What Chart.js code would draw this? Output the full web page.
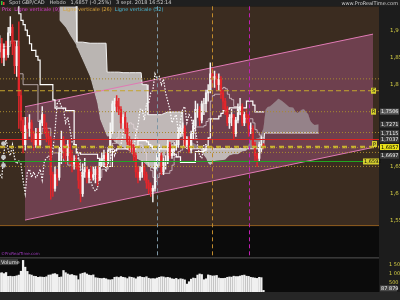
<!DOCTYPE html>
<html>
<head>
<meta charset="utf-8">
<script src="https://cdn.jsdelivr.net/npm/chart.js@4.4.1/dist/chart.umd.min.js"></script>
<style>
  html, body { margin: 0; padding: 0; background: #0b0b0b; }
  canvas { display: block; }
</style>
</head>
<body>
<canvas id="chart" width="400" height="300"></canvas>
<script>
// Spot GBP/CAD weekly — first candle is the week of 18 Apr 2016 (index 0)
const firstOpen = 1.860;
const closes = [
  1.875, 1.850, 1.865, 1.855, 1.895, 1.905, 1.875, 1.835, 1.870, 1.780,
  1.735, 1.690, 1.725, 1.720, 1.730, 1.710, 1.690, 1.710, 1.690, 1.730,
  1.745, 1.720, 1.705, 1.700, 1.635, 1.610, 1.635, 1.630, 1.675, 1.700,
  1.680, 1.670, 1.690, 1.665, 1.655, 1.660, 1.655, 1.625, 1.600, 1.640,
  1.645, 1.630, 1.640, 1.630, 1.635, 1.645, 1.625, 1.660, 1.665, 1.670,
  1.660, 1.680, 1.715, 1.765, 1.770, 1.760, 1.755, 1.730, 1.740, 1.720,
  1.695, 1.690, 1.685, 1.670, 1.640, 1.630, 1.640, 1.650, 1.635, 1.620,
  1.610, 1.605, 1.610, 1.650, 1.670, 1.670, 1.640, 1.660, 1.660, 1.690,
  1.670, 1.680, 1.685, 1.690, 1.710, 1.720, 1.720, 1.690, 1.700, 1.680,
  1.710, 1.725, 1.755, 1.755, 1.735, 1.765, 1.765, 1.785, 1.790, 1.820,
  1.810, 1.815, 1.800, 1.810, 1.785, 1.770, 1.755, 1.730, 1.740, 1.745,
  1.710, 1.735, 1.755, 1.760, 1.730, 1.745, 1.740, 1.720, 1.720, 1.690,
  1.670, 1.665, 1.690, 1.690, 1.6857
];
const highs = [
  1.890, 1.885, 1.875, 1.880, 1.905, 1.925, 1.910, 1.880, 1.880, 1.915,
  1.790, 1.740, 1.740, 1.740, 1.745, 1.735, 1.715, 1.720, 1.720, 1.735,
  1.760, 1.745, 1.730, 1.715, 1.705, 1.640, 1.650, 1.645, 1.685, 1.715,
  1.705, 1.690, 1.700, 1.700, 1.680, 1.670, 1.670, 1.660, 1.640, 1.655,
  1.665, 1.650, 1.645, 1.650, 1.650, 1.650, 1.650, 1.665, 1.675, 1.680,
  1.675, 1.685, 1.730, 1.770, 1.775, 1.780, 1.775, 1.760, 1.745, 1.750,
  1.730, 1.705, 1.700, 1.690, 1.675, 1.650, 1.650, 1.660, 1.655, 1.640,
  1.625, 1.620, 1.615, 1.660, 1.675, 1.690, 1.675, 1.665, 1.670, 1.700,
  1.695, 1.690, 1.695, 1.700, 1.720, 1.725, 1.730, 1.725, 1.705, 1.705,
  1.715, 1.735, 1.770, 1.765, 1.760, 1.770, 1.775, 1.790, 1.800, 1.840,
  1.830, 1.825, 1.820, 1.820, 1.815, 1.790, 1.775, 1.760, 1.745, 1.755,
  1.745, 1.740, 1.765, 1.775, 1.765, 1.750, 1.755, 1.745, 1.730, 1.725,
  1.695, 1.675, 1.695, 1.705, 1.692
];
const lows = [
  1.850, 1.840, 1.835, 1.845, 1.850, 1.890, 1.855, 1.820, 1.815, 1.720,
  1.715, 1.675, 1.680, 1.700, 1.705, 1.695, 1.680, 1.685, 1.685, 1.685,
  1.725, 1.710, 1.695, 1.690, 1.590, 1.595, 1.605, 1.615, 1.625, 1.655,
  1.665, 1.655, 1.660, 1.655, 1.640, 1.645, 1.645, 1.610, 1.585, 1.595,
  1.630, 1.620, 1.620, 1.625, 1.625, 1.620, 1.615, 1.625, 1.650, 1.650,
  1.650, 1.655, 1.675, 1.710, 1.750, 1.750, 1.745, 1.720, 1.720, 1.710,
  1.690, 1.680, 1.675, 1.660, 1.630, 1.620, 1.625, 1.630, 1.625, 1.610,
  1.600, 1.595, 1.585, 1.605, 1.645, 1.660, 1.635, 1.635, 1.645, 1.655,
  1.665, 1.665, 1.670, 1.680, 1.685, 1.705, 1.710, 1.685, 1.685, 1.675,
  1.675, 1.700, 1.720, 1.740, 1.725, 1.730, 1.745, 1.750, 1.770, 1.785,
  1.795, 1.795, 1.790, 1.790, 1.775, 1.755, 1.745, 1.725, 1.720, 1.725,
  1.700, 1.705, 1.730, 1.745, 1.725, 1.725, 1.730, 1.705, 1.710, 1.685,
  1.660, 1.650, 1.660, 1.675, 1.683
];
// weekly volume, thousands
const volumes = [
  1030, 1050, 1000, 1060, 850, 860, 840, 850, 880, 920,
  1130, 1720, 1350, 1120, 950, 920, 860, 850, 800, 820,
  810, 800, 830, 920, 930, 980, 1000, 950, 800, 820,
  1170, 1050, 980, 930, 950, 900, 880, 670, 980, 1020,
  1050, 980, 920, 900, 930, 780, 760, 740, 730, 750,
  720, 670, 660, 680, 800, 820, 790, 840, 800, 780,
  730, 820, 800, 770, 720, 820, 840, 800, 790, 830,
  750, 720, 730, 720, 760, 800, 830, 820, 780, 800,
  770, 720, 700, 740, 680, 720, 700, 660, 430, 560,
  700, 760, 740, 920, 980, 950, 670, 720, 930, 900,
  870, 880, 900, 760, 740, 740, 750, 800, 820, 810,
  860, 840, 840, 870, 900, 920, 860, 850, 800, 780,
  760, 740, 800, 780, 88
];

// Ichimoku lines (week index, value from that week on)
const tenkanIdx = [0, 5, 9, 11, 18, 19, 20, 24, 29, 30, 32, 35, 37, 38, 39, 42, 44, 46, 47, 48, 51, 52, 53, 55, 56, 59, 60, 61, 62, 63, 64, 65, 67, 68, 69, 70, 71, 72, 73, 74, 75, 80, 81, 82, 84, 85, 86, 88, 90, 92, 96, 97, 98, 99, 100, 101, 104, 105, 106, 107, 108, 109, 110, 112, 113, 114, 119, 120, 121, 122, 123, 124];
const tenkan = [1.870, 1.880, 1.820, 1.800, 1.7325, 1.710, 1.720, 1.675, 1.6675, 1.660, 1.6525, 1.665, 1.6625, 1.645, 1.6425, 1.6325, 1.6275, 1.625, 1.630, 1.645, 1.650, 1.6725, 1.6925, 1.7025, 1.715, 1.7175, 1.7275, 1.730, 1.7275, 1.720, 1.7025, 1.690, 1.685, 1.675, 1.6575, 1.650, 1.6425, 1.630, 1.6225, 1.630, 1.6375, 1.6425, 1.6525, 1.6675, 1.6775, 1.680, 1.6875, 1.6975, 1.700, 1.7225, 1.725, 1.7325, 1.7375, 1.770, 1.780, 1.7825, 1.7925, 1.795, 1.7925, 1.7825, 1.775, 1.7725, 1.760, 1.7575, 1.745, 1.7375, 1.730, 1.7175, 1.7125, 1.7075, 1.7025, 1.7037];
const kijunIdx = [0, 9, 10, 11, 12, 13, 14, 15, 17, 18, 19, 25, 26, 31, 35, 36, 38, 46, 47, 48, 53, 54, 55, 64, 65, 69, 70, 71, 72, 81, 82, 83, 85, 92, 96, 97, 98, 99, 103, 104, 105, 107, 108, 116, 119, 120, 124];
const kijun = [1.950, 1.930, 1.918, 1.910, 1.900, 1.890, 1.875, 1.863, 1.852, 1.845, 1.800, 1.772, 1.757, 1.7525, 1.690, 1.675, 1.6725, 1.665, 1.6575, 1.650, 1.6775, 1.680, 1.6825, 1.6875, 1.6975, 1.695, 1.690, 1.6875, 1.6825, 1.680, 1.6725, 1.6675, 1.6575, 1.6775, 1.680, 1.6875, 1.7025, 1.7375, 1.7425, 1.7475, 1.7525, 1.755, 1.7575, 1.770, 1.7625, 1.750, 1.7506];
// cloud (senkou spans, already shifted 26 weeks ahead)
const cloudIdx = [28, 31, 33, 35.9, 36.3, 39, 42.5, 45.8, 47.2, 50, 50.5, 52, 54, 56, 58, 61, 64, 66.5, 67, 69.3, 69.7, 73, 76, 79, 81, 83, 86, 86.5, 88, 90, 92, 94, 95, 96, 97, 98, 99, 101, 106, 108, 110, 112, 114, 116, 118, 120, 122, 123, 124, 124.5, 125, 126, 127, 130, 131, 132, 133, 134, 136, 138, 139, 140, 142, 143, 145, 146, 147, 148, 150];
const spanA = [1.918, 1.905, 1.891, 1.873, 1.868, 1.845, 1.814, 1.767, 1.736, 1.709, 1.705, 1.705, 1.695, 1.690, 1.685, 1.678, 1.665, 1.660, 1.660, 1.652, 1.650, 1.644, 1.650, 1.685, 1.692, 1.699, 1.705, 1.706, 1.705, 1.695, 1.691, 1.686, 1.676, 1.670, 1.665, 1.656, 1.6525, 1.660, 1.6625, 1.670, 1.6725, 1.6725, 1.6775, 1.679, 1.700, 1.700, 1.7025, 1.710, 1.720, 1.737, 1.754, 1.759, 1.760, 1.770, 1.774, 1.772, 1.769, 1.766, 1.759, 1.7575, 1.751, 1.748, 1.754, 1.755, 1.746, 1.734, 1.729, 1.726, 1.7271];
const spanB = [1.950, 1.950, 1.950, 1.950, 1.878, 1.878, 1.876, 1.876, 1.876, 1.876, 1.823, 1.823, 1.823, 1.823, 1.822, 1.822, 1.822, 1.822, 1.800, 1.800, 1.745, 1.745, 1.745, 1.750, 1.750, 1.750, 1.750, 1.6875, 1.6825, 1.6825, 1.6825, 1.6825, 1.6825, 1.6825, 1.6825, 1.6825, 1.6825, 1.6825, 1.6825, 1.6825, 1.6825, 1.6825, 1.6825, 1.6825, 1.6825, 1.6825, 1.6825, 1.6825, 1.6825, 1.7115, 1.7115, 1.7115, 1.7115, 1.7115, 1.7115, 1.7115, 1.7115, 1.7115, 1.7115, 1.7115, 1.7115, 1.7115, 1.7115, 1.7115, 1.7115, 1.7115, 1.7115, 1.7115, 1.7115];

// pink regression channel
const channelIdx = [11.9, 175.5];
const channelTop = [1.7596, 1.8927];
const channelBottom = [1.5518, 1.6850];

// horizontal levels
const dottedLevels = [1.8107, 1.7505, 1.7123, 1.6849, 1.6758, 1.6502];
const dashedLevels = [1.7889];
const lastPrice = 1.6857;
const redLevel = 1.6995;
const greenLevel = 1.6592;
const alertLevels = [1.692, 1.667, 1.652];

// vertical lines 52 / 26 / 9
const vLineIdx = [74, 99.8, 117];
const vLineNames = ['Ligne verticale (52)', 'Ligne verticale (26)', 'Ligne verticale (9)'];

// right-axis value boxes
const axisBoxes = [1.7506, 1.7271, 1.7115, 1.7037, 1.6857, 1.6697];
const priceTicks = [1.55, 1.6, 1.65, 1.8, 1.85, 1.9];
const volumeTicks = [500, 1000, 1500];
const volumeTickLabels = ['500 000', '1 000k', '1 500k'];
const lastVolumeLabel = '87 879';

const monthTicks = ['2016-05-01', '2016-07-01', '2016-09-01', '2016-11-01', '2017-01-01', '2017-03-01', '2017-05-01', '2017-07-01', '2017-09-01', '2017-11-01', '2018-01-01', '2018-03-01', '2018-05-01', '2018-07-01', '2018-09-01', '2018-11-01', '2019-01-01', '2019-03-01', '2019-05-01', '2019-07-01'];
const monthLabels = ['mai', 'juil.', 'sept.', 'nov.', '2017', 'mars', 'mai', 'juil.', 'sept.', 'nov.', '2018', 'mars', 'mai', 'juil.', 'sept.', 'nov.', '2019', 'mars', 'mai', 'juil.'];

const firstWeek = Date.UTC(2016, 3, 18);
const weekOf = d => (Date.parse(d) - firstWeek) / 604800000;
const tickIdx = monthTicks.map(weekOf);

const idx = closes.map((_, i) => i);
const opens = closes.map((c, i) => (i === 0 ? firstOpen : closes[i - 1]));
const candleColors = closes.map((c, i) => (c >= opens[i] ? '#f4f4f4' : '#e3262b'));
const pts = (xs, ys) => xs.map((x, k) => ({ x, y: ys[k] }));
const X0 = 0.15, X1 = 178.3;
const hLine = (v, color, width, dash) => ({
  type: 'line', data: [{ x: X0, y: v }, { x: X1, y: v }], borderColor: color,
  borderWidth: width, borderDash: dash, pointRadius: 0, yAxisID: 'y', order: 0
});

const FONT = '"DejaVu Sans", sans-serif';
const AXIS_YELLOW = '#d6cf45';
const PINK = '#e07ab4';

const datasets = [
  // 0,1 channel fill (under the cloud)
  { type: 'line', data: pts(channelIdx, channelBottom), borderWidth: 0, pointRadius: 0,
    fill: { target: 1 }, backgroundColor: 'rgba(150,80,115,0.56)', yAxisID: 'y', order: 30 },
  { type: 'line', data: pts(channelIdx, channelTop), borderWidth: 0, pointRadius: 0, yAxisID: 'y', order: 29 },
  // 2,3 cloud: light when span B is on top, darker when span A is on top
  { type: 'line', data: pts(cloudIdx, spanA), borderWidth: 0, pointRadius: 0, yAxisID: 'y', order: 21 },
  { type: 'line', data: pts(cloudIdx, spanB), borderColor: '#f2f2f2', borderWidth: 1, pointRadius: 0,
    fill: { target: 2, above: 'rgba(204,200,198,0.88)', below: 'rgba(198,210,210,0.45)' },
    yAxisID: 'y', order: 20 },
  // channel borders above the cloud
  { type: 'line', data: pts(channelIdx, channelBottom), borderColor: PINK, borderWidth: 1, pointRadius: 0, yAxisID: 'y', order: 12 },
  { type: 'line', data: pts(channelIdx, channelTop), borderColor: PINK, borderWidth: 1, pointRadius: 0, yAxisID: 'y', order: 11 },
  // ichimoku lines
  { type: 'line', data: pts(tenkanIdx, tenkan), stepped: true, borderColor: 'rgba(230,215,220,0.7)', borderWidth: 1, pointRadius: 0, yAxisID: 'y', order: 6 },
  { type: 'line', data: pts(kijunIdx, kijun), stepped: true, borderColor: '#ffffff', borderWidth: 1.2, pointRadius: 0, yAxisID: 'y', order: 5 },
  { type: 'line', data: idx.map(i => ({ x: i - 26, y: closes[i] })), borderColor: '#ffffff', borderWidth: 1.2,
    borderDash: [1.5, 1.5], pointRadius: 0, yAxisID: 'y', order: 4 },
  // candles
  { type: 'bar', data: idx.map(i => ({ x: i, y: [lows[i], highs[i]] })), backgroundColor: candleColors,
    barThickness: 0.8, grouped: false, yAxisID: 'y', order: 3 },
  { type: 'bar', data: idx.map(i => ({ x: i, y: [opens[i], closes[i]] })), backgroundColor: candleColors,
    barThickness: 1.6, grouped: false, yAxisID: 'y', order: 2 },
  // volume
  { type: 'bar', data: idx.map(i => ({ x: i, y: volumes[i] })), backgroundColor: '#f0f0f0',
    barThickness: 1.6, grouped: false, yAxisID: 'yv', order: 2 },
  // levels
  ...dottedLevels.map(v => hLine(v, '#a88a2e', 1, [1, 2])),
  ...dashedLevels.map(v => hLine(v, '#c4a52e', 1, [5, 3])),
  hLine(redLevel, '#d92222', 1, []),
  hLine(lastPrice, '#c9b232', 2.5, [5, 4]),
  hLine(greenLevel, '#22a822', 1, [])
];

function text(ctx, s, x, y, color, size, align) {
  ctx.fillStyle = color;
  ctx.font = size + 'px ' + FONT;
  ctx.textAlign = align || 'left';
  ctx.textBaseline = 'middle';
  ctx.fillText(s, x, y);
}

function box(ctx, s, x, y, bg, fg, w) {
  ctx.fillStyle = bg;
  ctx.fillRect(x, y - 3, w, 6);
  text(ctx, s, x + 1, y + 0.3, fg, 5);
}

const chrome = {
  id: 'chrome',
  beforeDraw(chart) {
    const { ctx, chartArea: a, scales } = chart;
    const yp = scales.y;
    ctx.save();
    ctx.fillStyle = '#0b0b0b';
    ctx.fillRect(0, 0, 400, 300);
    ctx.fillStyle = '#3b2c20';
    ctx.fillRect(a.left, yp.top, a.right - a.left, yp.bottom - yp.top);
    ctx.fillStyle = '#1c1c1c';
    ctx.fillRect(a.right, 0, 400 - a.right, 300);
    ctx.fillStyle = '#1f1f1f';
    ctx.fillRect(0, 0, 400, yp.top);
    ctx.fillStyle = '#262626';
    ctx.fillRect(0, a.bottom, 400, 300 - a.bottom);
    ctx.restore();
  },
  afterDatasetsDraw(chart) {
    const { ctx, chartArea: a, scales } = chart;
    const x = scales.x, yp = scales.y, yv = scales.yv;
    const sep = yp.bottom + 31;
    ctx.save();
    // pane separators
    ctx.fillStyle = '#8c5a1e';
    ctx.fillRect(a.left, yp.bottom - 1, a.right - a.left, 1);
    ctx.fillStyle = '#3c3c3c';
    ctx.fillRect(a.left, sep, a.right - a.left, 1.5);

    // vertical lines
    const vColors = ['#7d96a4', '#c08a2c', '#c21fb4'];
    vLineIdx.forEach((v, k) => {
      const px = Math.round(x.getPixelForValue(v)) + 0.5;
      ctx.strokeStyle = vColors[k];
      ctx.lineWidth = 1;
      ctx.setLineDash([4, 3]);
      ctx.beginPath();
      ctx.moveTo(px, yp.top);
      ctx.lineTo(px, sep);
      ctx.stroke();
    });
    ctx.setLineDash([]);

    // alert balls on the left
    alertLevels.forEach(v => {
      const py = yp.getPixelForValue(v);
      ctx.fillStyle = '#c8c8c8';
      ctx.beginPath();
      ctx.arc(3.5, py, 2.4, 0, Math.PI * 2);
      ctx.fill();
    });

    // header
    ctx.fillStyle = '#3ac23a';
    ctx.fillRect(1, 1, 1.5, 4);
    ctx.fillStyle = '#e33';
    ctx.fillRect(3, 2, 1.5, 3);
    text(ctx, 'Spot GBP/CAD   Hebdo   1,6857 (-0,25%)   3 sept. 2018 16:52:14', 9, 3.2, '#cfcfcf', 5);
    text(ctx, 'www.ProRealTime.com', 398, 3.4, '#cfcfcf', 5, 'right');

    // legend row
    ctx.font = '5px ' + FONT;
    let lx = 2;
    [['Prix', '#e048d8'], [vLineNames[2], '#d33bd0'], [vLineNames[1], '#d4a23a'], [vLineNames[0], '#46b8d6']].forEach(([s, c]) => {
      text(ctx, s, lx, 9.6, c, 5);
      lx += ctx.measureText(s).width + 3;
    });

    // in-plot tags near the right edge
    box(ctx, '1,6592', 363, yp.getPixelForValue(greenLevel), '#d6cf2e', '#111', 16);
    box(ctx, 'S', 371, yp.getPixelForValue(dashedLevels[0]), '#d6cf2e', '#111', 5);
    box(ctx, 'R', 371, yp.getPixelForValue(dottedLevels[1]), '#d6cf2e', '#111', 5);
    box(ctx, 'P', 372, yp.getPixelForValue(lastPrice) - 3, '#d6cf2e', '#111', 5);

    // right-axis value boxes, pushed apart so they do not overlap
    let prev = -99;
    axisBoxes.forEach(v => {
      let py = Math.max(yp.getPixelForValue(v), prev + 6.5);
      prev = py;
      const isPrice = v === lastPrice;
      box(ctx, String(v).replace('.', ','), a.right + 1, py,
        isPrice ? '#ece41a' : (v === axisBoxes[0] ? '#5a5a5a' : '#3a3a3a'),
        isPrice ? '#000' : '#f2f2f2', 19);
    });
    box(ctx, lastVolumeLabel, a.right + 1, yv.getPixelForValue(volumes[volumes.length - 1]) - 2, '#4a4a4a', '#f2f2f2', 17);

    // volume pane captions
    ctx.fillStyle = '#3a3a3a';
    ctx.fillRect(0, sep + 2, 18, 6);
    text(ctx, 'Volume', 1, sep + 5.2, '#e6e6e6', 5);
    text(ctx, '\u00a9ProRealTime.com', 1, sep - 3, '#a23cc0', 4);
    ctx.restore();
  }
};

new Chart(document.getElementById('chart'), {
  type: 'bar',
  data: { datasets },
  options: {
    responsive: false,
    animation: false,
    devicePixelRatio: 1,
    layout: { padding: { top: 6, left: 0, right: 0, bottom: 0 } },
    plugins: { legend: { display: false }, tooltip: { enabled: false } },
    scales: {
      x: {
        type: 'linear', min: X0, max: X1, offset: false,
        grid: { display: false }, border: { display: false },
        afterBuildTicks: s => { s.ticks = tickIdx.map(v => ({ value: v })); },
        afterFit: s => { s.height = 8; },
        ticks: {
          autoSkip: false, maxRotation: 0, align: 'start', padding: 1,
          color: AXIS_YELLOW, font: { family: FONT, size: 5.5 },
          callback: (v, i) => monthLabels[i]
        }
      },
      y: {
        type: 'linear', position: 'right', stack: 'panes', stackWeight: 220,
        min: 1.5408, max: 1.9437, beginAtZero: false,
        grid: { display: false }, border: { display: false },
        afterBuildTicks: s => { s.ticks = priceTicks.map(v => ({ value: v })); },
        afterFit: s => { s.width = 21; },
        ticks: {
          padding: 3, color: AXIS_YELLOW, font: { family: FONT, size: 5.5 },
          callback: v => String(v).replace('.', ',')
        }
      },
      yv: {
        type: 'linear', position: 'right', stack: 'panes', stackWeight: 66,
        min: 0, max: 3587,
        grid: { display: false }, border: { display: false },
        afterBuildTicks: s => { s.ticks = volumeTicks.map(v => ({ value: v })); },
        afterFit: s => { s.width = 21; },
        ticks: {
          padding: 2, color: AXIS_YELLOW, font: { family: FONT, size: 5 },
          callback: v => volumeTickLabels[volumeTicks.indexOf(v)]
        }
      }
    }
  },
  plugins: [chrome]
});
</script>
</body>
</html>
